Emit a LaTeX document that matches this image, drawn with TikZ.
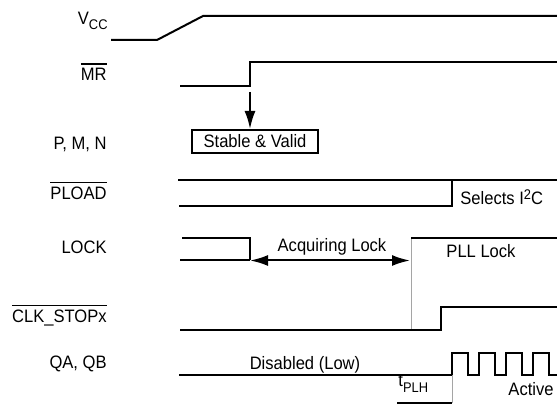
\documentclass[tikz,border=0pt]{standalone}
\usepackage{fontspec}
\setmainfont{Liberation Sans}[FakeStretch=0.92]
\usepackage{tikz}
\usepackage{xcolor}
\usetikzlibrary{positioning, arrows.meta, calc}
\definecolor{edgegray}{RGB}{165,165,165}
\newcommand{\ovl}[1]{\vbox{\hrule height 0.9pt\kern 2pt\hbox{#1}}}
\newcommand{\lowtext}[2][2.5pt]{\raisebox{-#1}{\fontsize{7}{8}\selectfont #2}}
\newcommand{\hightext}[1]{\raisebox{2.6pt}{\fontsize{7}{8}\selectfont #1}}

\begin{document}
\begin{tikzpicture}[x=0.5pt, y=-0.5pt,
      font=\fontsize{9}{10.8}\selectfont,
      sig/.style={line width=1pt, black},
      mark line/.style={line width=0.5pt, edgegray},
      lbl/.style={anchor=base east, inner sep=0pt},
      txt/.style={anchor=base, inner sep=0pt},
      box/.style={draw, line width=1pt, inner sep=0pt,
        minimum width=63pt, minimum height=11.5pt},
      arr/.style={-{Latex[length=9pt, width=5.5pt]}, line width=1pt},
      darr/.style={{Latex[length=9pt, width=5.5pt]}-{Latex[length=9pt, width=5.5pt]}, line width=1pt}
    ]
    \useasboundingbox (0,0) rectangle (557,405);

    % signal names
    \node[lbl] (vcc) at (108,25) {V\lowtext{CC}};
    \node[lbl] (mr) at (107,81) {\ovl{MR}};
    \node[lbl] (pmn) at (107,150) {P, M, N};
    \node[lbl] (pload) at (107,200) {\ovl{PLOAD}};
    \node[lbl] (lock) at (107,254) {LOCK};
    \node[lbl] (clkstop) at (107,323) {\ovl{CLK\_STOPx}};
    \node[lbl] (qaqb) at (107,369) {QA, QB};

    % waveforms
    \draw[sig] (111,40) -- (157,40) -- (203,16) -- (557,16);
    \draw[sig] (180,86) -- (250,86) -- (250,62) -- (557,62);
    \draw[sig] (178,180) -- (557,180);
    \draw[sig] (179,206) -- (452,206) -- (452,180);
    \draw[sig] (182,238) -- (250,238) -- (250,260.5);
    \draw[sig] (180,260.5) -- (250,260.5);
    \draw[mark line] (411,238) -- (411,330);
    \draw[sig] (411,238) -- (557,238);
    \draw[sig] (180,330) -- (441,330) -- (441,307) -- (557,307);
    \draw[sig] (179,375)
      \foreach \r in {452,479,506,533} {-- (\r,375) -- (\r,353) -- ({\r+15.5},353) -- ({\r+15.5},375)}
      -- (557,375);
    \draw[mark line] (452,375) -- (452,403);
    \draw[sig] (397,403) -- (452,403);

    % annotations
    \node[box] (stable) at (255,141.5) {Stable \& Valid};
    \coordinate (mrstep) at (250,92);
    \draw[arr] (mrstep) -- (mrstep |- stable.north);

    \coordinate (lockfall) at (250,260.5);
    \coordinate (lockrise) at (410,260.5);
    \draw[darr] (lockfall) -- (lockrise);
    \node[txt] (acquiring) at (332,252) {Acquiring Lock};
    \node[txt] (plllock) at (481,258) {PLL Lock};
    \node[txt, anchor=base west] (selects) at (460,205) {Selects I\hightext{2}C};
    \node[txt] (disabled) at (305,369.5) {Disabled (Low)};
    \node[txt, anchor=base west] (tplh) at (398,387) {t\lowtext[3pt]{PLH}};
    \node[txt] (active) at (531,396) {Active};
  \end{tikzpicture}
\end{document}
